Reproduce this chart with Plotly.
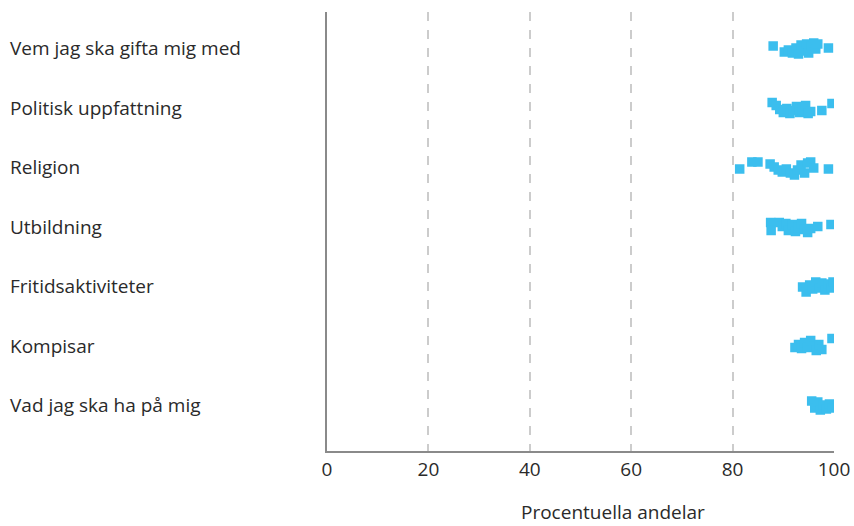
import plotly.graph_objects as go

categories = [
    "Vem jag ska gifta mig med",
    "Politisk uppfattning",
    "Religion",
    "Utbildning",
    "Fritidsaktiviteter",
    "Kompisar",
    "Vad jag ska ha på mig",
]

# percentage values per category
values = [
    [88.0, 90.2, 91.0, 91.8, 92.5, 93.0, 93.5, 94.0, 94.6, 95.0, 95.5, 96.0, 96.4, 96.8, 98.9],
    [87.8, 88.6, 89.3, 90.0, 90.7, 91.3, 92.0, 92.6, 93.2, 93.8, 94.4, 94.9, 95.4, 97.6, 99.6],
    [81.4, 83.8, 85.0, 87.4, 88.2, 89.0, 89.8, 90.6, 91.4, 92.2, 92.8, 93.5, 94.2, 94.8, 95.4, 96.0, 98.9],
    [87.5, 87.6, 89.2, 89.8, 90.5, 91.0, 91.8, 92.4, 93.0, 93.6, 94.2, 94.8, 95.4, 96.8, 99.4],
    [93.8, 94.5, 95.2, 95.8, 96.4, 97.0, 97.6, 98.2, 98.8, 99.4, 99.8],
    [92.3, 93.0, 93.6, 94.2, 94.8, 95.4, 96.0, 96.5, 97.0, 97.6, 99.6],
    [95.6, 96.2, 96.8, 97.3, 97.9, 98.5, 99.1, 99.6],
]

# vertical jitter of each point (pixels, positive = downward)
jitter = [
    [-2, 4, 2, 5, 0, 6, -3, 3, -4, 5, -2, -5, 1, -4, 0],
    [-5, -2, 2, 5, 1, 6, 3, -1, 5, 2, -2, 6, 4, 3, -4],
    [2, -5, -5, -3, 0, 3, 5, 2, 6, 8, 3, -2, 6, -4, -5, 1, 2],
    [-4, 4, -4, 0, -3, 4, -2, 5, 1, -3, 3, 6, 2, 0, -2],
    [1, 6, -1, 3, -4, 2, -3, 4, -2, 2, -4],
    [2, -1, 3, -3, 2, -5, 1, 5, -1, 4, -7],
    [-4, 3, -3, 5, 0, 4, -1, 3],
]

x_ticks = [0, 20, 40, 60, 80, 100]
x_title = "Procentuella andelar"

ROW_PX = 59.5
n = len(categories)
xs, ys = [], []
for i, (vals, jit) in enumerate(zip(values, jitter)):
    pos = n - i
    for v, j in zip(vals, jit):
        xs.append(v)
        ys.append(pos - j / ROW_PX)

FONT = "'Open Sans', 'Noto Sans', sans-serif"
TXT = "#2a2a2a"
FS = 19

fig = go.Figure()
fig.add_trace(go.Scatter(
    x=xs, y=ys, mode="markers",
    marker=dict(symbol="square", size=9.5, color="rgb(59,190,238)", line=dict(width=0)),
    hoverinfo="x", showlegend=False,
))

W, H = 854, 526
L, R, T, B = 327, 20, 12, 75
pw = W - L - R

annotations = []
for i, c in enumerate(categories):
    annotations.append(dict(
        text=c, x=(8 - L) / pw, xref="paper", xanchor="left",
        y=n - i, yref="y", yanchor="middle", showarrow=False,
        font=dict(family=FONT, size=FS, color=TXT),
    ))
annotations.append(dict(
    text=x_title, x=(613 - L) / pw, xref="paper", xanchor="center",
    y=-(512 - (H - B)) / (H - T - B), yref="paper", yanchor="middle", showarrow=False,
    font=dict(family=FONT, size=FS, color=TXT),
))

fig.update_layout(
    width=W, height=H, autosize=False,
    margin=dict(l=L, r=R, t=T, b=B, autoexpand=False),
    plot_bgcolor="white", paper_bgcolor="white",
    annotations=annotations,
    xaxis=dict(
        range=[0, 100], tickvals=x_ticks, ticktext=[str(t) for t in x_ticks],
        showgrid=True, gridcolor="#CCCCCC", gridwidth=2, griddash="9px,9px",
        zeroline=False, showline=True, linecolor="#8A8A8A", linewidth=2,
        ticks="", tickfont=dict(family=FONT, size=FS, color=TXT),
        fixedrange=True, automargin=False,
    ),
    yaxis=dict(
        range=[1 - 46 / ROW_PX, n + 36 / ROW_PX],
        showgrid=False, zeroline=False, showline=True, linecolor="#8A8A8A", linewidth=2,
        showticklabels=False, ticks="", fixedrange=True, automargin=False,
    ),
)

fig.write_html(
    "out.html",
    config={"displayModeBar": False, "responsive": False},
    post_script="document.body.style.margin='0';document.body.style.overflow='hidden';",
)
